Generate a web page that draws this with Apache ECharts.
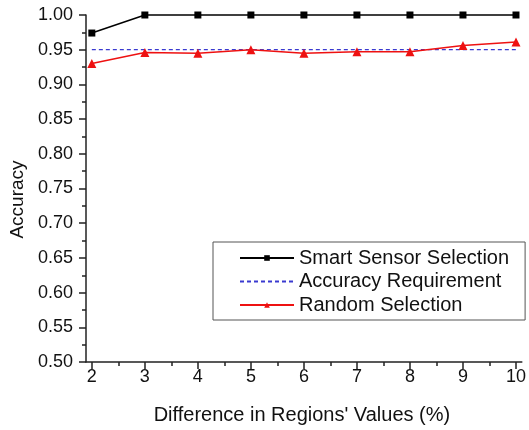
<!DOCTYPE html>
<html>
<head>
<meta charset="utf-8">
<script src="https://cdn.jsdelivr.net/npm/echarts@6/dist/echarts.min.js"></script>
<style>html,body{margin:0;padding:0;background:#fff}#c{width:529px;height:430px}</style>
</head>
<body>
<div id="c"></div>
<script>
var xValues = [2, 3, 4, 5, 6, 7, 8, 9, 10];
var xMinorTicks = [2.5, 3.5, 4.5, 5.5, 6.5, 7.5, 8.5, 9.5];
var smartSelection = [0.974, 1.0, 1.0, 1.0, 1.0, 1.0, 1.0, 1.0, 1.0];
var accuracyRequirement = [0.95, 0.95, 0.95, 0.95, 0.95, 0.95, 0.95, 0.95, 0.95];
var randomSelection = [0.930, 0.946, 0.945, 0.950, 0.945, 0.947, 0.947, 0.956, 0.961];
var seriesNames = ['Smart Sensor Selection', 'Accuracy Requirement', 'Random Selection'];

var FONT = 'Liberation Sans, Arial, sans-serif';
function pairs(ys) { return xValues.map(function (x, i) { return [x, ys[i]]; }); }

var chart = echarts.init(document.getElementById('c'), null, {renderer: 'canvas'});
chart.setOption({
  animation: false,
  backgroundColor: '#fff',
  grid: {left: 86, right: 4, top: 15, bottom: 66, containLabel: false},
  legend: {
    orient: 'vertical',
    left: 213, top: 242,
    padding: [6, 16, 5, 26],
    itemGap: 3.5,
    itemWidth: 54, itemHeight: 7,
    borderColor: '#555', borderWidth: 1,
    backgroundColor: '#fff',
    textStyle: {fontFamily: FONT, fontSize: 20, color: '#111'},
    data: [
      {name: seriesNames[0]},
      {name: seriesNames[1], itemStyle: {opacity: 0}},
      {name: seriesNames[2]}
    ]
  },
  xAxis: [{
    type: 'value', min: 1.89, max: 10.11,
    name: "Difference in Regions' Values (%)",
    nameLocation: 'middle', nameGap: 43,
    nameTextStyle: {fontFamily: FONT, fontSize: 20, color: '#111', padding: [0, 4, 0, 0]},
    axisLine: {show: true, lineStyle: {color: '#222', width: 1.5}},
    axisTick: {show: true, inside: false, length: 7, customValues: xValues, lineStyle: {color: '#222', width: 1.5}},
    axisLabel: {customValues: xValues, margin: 6, fontFamily: FONT, fontSize: 18, color: '#111'},
    splitLine: {show: false}
  }, {
    type: 'value', min: 1.89, max: 10.11, position: 'bottom',
    axisLine: {show: false},
    axisTick: {show: true, inside: false, length: 4, customValues: xMinorTicks, lineStyle: {color: '#222', width: 1.5}},
    axisLabel: {show: false},
    splitLine: {show: false}
  }],
  yAxis: {
    type: 'value', min: 0.5, max: 1.0, interval: 0.05,
    name: 'Accuracy', nameLocation: 'middle', nameGap: 57,
    nameTextStyle: {fontFamily: FONT, fontSize: 19, color: '#111', padding: [0, 22, 0, 0]},
    axisLine: {show: true, lineStyle: {color: '#222', width: 1.5}},
    axisTick: {show: true, inside: false, length: 7, lineStyle: {color: '#222', width: 1.5}},
    minorTick: {show: true, splitNumber: 2, length: 4, lineStyle: {color: '#222', width: 1.5}},
    axisLabel: {margin: 13, fontFamily: FONT, fontSize: 18, color: '#111',
      formatter: function (v) { return v.toFixed(2); }},
    splitLine: {show: false}
  },
  series: [{
    name: seriesNames[0], type: 'line', data: pairs(smartSelection),
    symbol: 'rect', symbolSize: 7, clip: false,
    itemStyle: {color: '#000'}, lineStyle: {color: '#000', width: 1.5}
  }, {
    name: seriesNames[1], type: 'line', data: pairs(accuracyRequirement),
    symbol: 'none', showSymbol: false,
    itemStyle: {color: '#3a3ad0'}, lineStyle: {color: '#3a3ad0', width: 1.2, type: [4, 3]}
  }, {
    name: seriesNames[2], type: 'line', data: pairs(randomSelection),
    symbol: 'triangle', symbolSize: 9, clip: false,
    itemStyle: {color: '#ee1111'}, lineStyle: {color: '#ee1111', width: 1.5}
  }]
});
</script>
</body>
</html>
